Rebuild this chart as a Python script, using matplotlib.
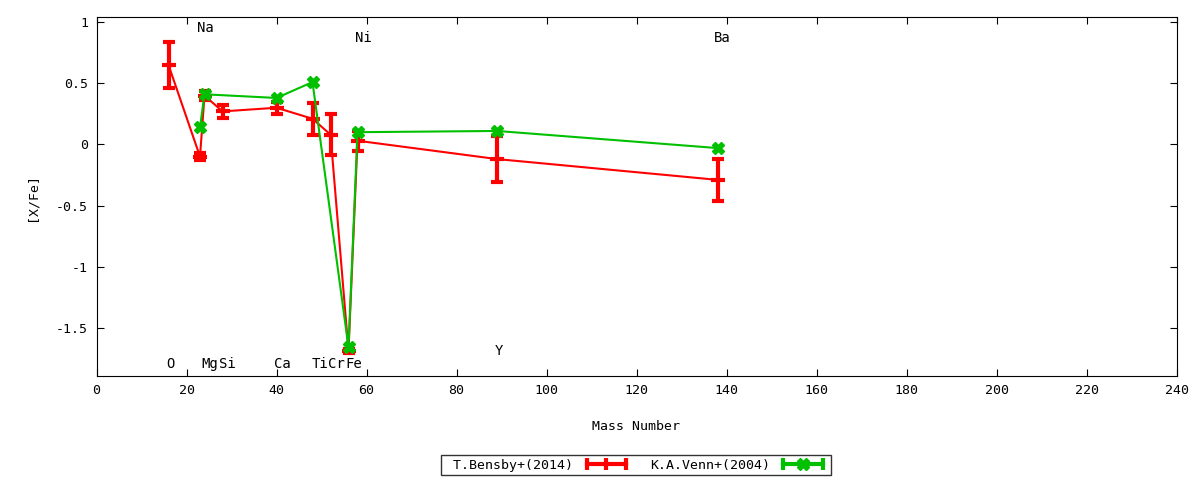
import matplotlib
matplotlib.use('Agg')
import matplotlib.pyplot as plt
from matplotlib.lines import Line2D
from matplotlib.legend_handler import HandlerLine2D, HandlerTuple

# T.Bensby+(2014)
bensby_mass = [16, 23, 24, 28, 40, 48, 52, 56, 58, 89, 138]
bensby_xfe = [0.65, -0.10, 0.40, 0.27, 0.30, 0.21, 0.08, -1.69, 0.03, -0.12, -0.29]
bensby_err = [0.19, 0.03, 0.04, 0.05, 0.05, 0.13, 0.17, 0.02, 0.08, 0.185, 0.17]

# K.A.Venn+(2004)
venn_mass = [23, 24, 40, 48, 56, 58, 89, 138]
venn_xfe = [0.14, 0.41, 0.38, 0.51, -1.66, 0.10, 0.11, -0.03]
venn_err = [0.0, 0.0, 0.0, 0.0, 0.0, 0.0, 0.0, 0.0]

# element labels (left edge of text)
elem_names = ['O', 'Na', 'Mg', 'Si', 'Ca', 'Ti', 'Cr', 'Fe', 'Ni', 'Y', 'Ba']
elem_x = [15.5, 22.3, 23.4, 27.2, 39.4, 47.7, 51.4, 55.2, 57.4, 88.6, 137.2]
elem_y = [-1.8, 0.95, -1.8, -1.8, -1.8, -1.8, -1.8, -1.8, 0.87, -1.69, 0.87]

plt.rcParams['font.family'] = 'DejaVu Sans Mono'
plt.rcParams['font.size'] = 9.5

fig = plt.figure(figsize=(12, 4.8), dpi=100)
ax = fig.add_axes([96.5/1200, 1-376/480, 1080/1200, (376-17.3)/480])

red = '#ff0000'
green = '#00c000'

ax.errorbar(bensby_mass, bensby_xfe, yerr=bensby_err, color=red, lw=1.5,
            elinewidth=3, capsize=4, capthick=3, marker='_', ms=10, mew=3)
ax.errorbar(venn_mass, venn_xfe, yerr=venn_err, color=green, lw=1.5,
            elinewidth=3, capsize=0, marker='X', ms=8, mew=1)

for n, x, y in zip(elem_names, elem_x, elem_y):
    ax.text(x, y, n, ha='left', va='center', fontsize=10)

ax.set_xlim(0, 240)
ax.set_ylim(-1.895, 1.04)
ax.set_xticks(range(0, 241, 20))
ax.set_yticks([1, 0.5, 0, -0.5, -1, -1.5])
ax.set_yticklabels(['1', '0.5', '0', '-0.5', '-1', '-1.5'])
ax.tick_params(direction='in', top=True, right=True, length=5, pad=6)
ax.set_xlabel('Mass Number', labelpad=16)
ax.set_ylabel('[X/Fe]', labelpad=13)

# legend samples: horizontal bar with caps, point in the middle
r_bar = Line2D([], [], color=red, lw=3, marker='|', ms=8, mew=3)
g_bar = Line2D([], [], color=green, lw=3, marker='|', ms=8, mew=3)
g_pt = Line2D([], [], color=green, ls='none', marker='X', ms=8, mew=1)
hmap = {r_bar: HandlerLine2D(numpoints=3), g_bar: HandlerLine2D(numpoints=2),
        g_pt: HandlerLine2D(numpoints=1), tuple: HandlerTuple(ndivide=1)}

leg = fig.legend(handles=[r_bar, (g_bar, g_pt)],
                 labels=[' T.Bensby+(2014)', 'K.A.Venn+(2004)'],
                 handler_map=hmap, loc='center',
                 bbox_to_anchor=(636/1200, 1-465/480),
                 ncol=2, markerfirst=False, frameon=True, fancybox=False,
                 edgecolor='black', handlelength=3.6, columnspacing=1.5,
                 handletextpad=0.7, borderpad=0.3, fontsize=9.5)
leg.get_frame().set_linewidth(1)

fig.savefig('out.png', dpi=100)
